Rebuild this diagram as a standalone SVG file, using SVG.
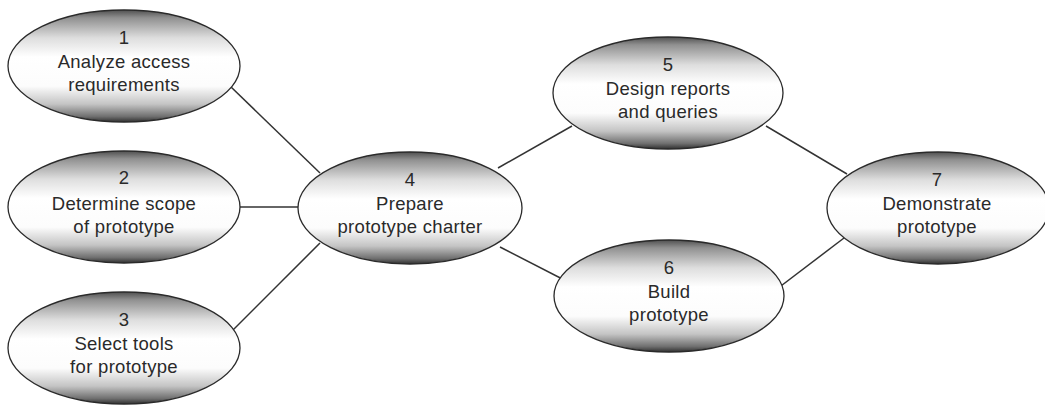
<svg xmlns="http://www.w3.org/2000/svg" width="1045" height="406" viewBox="0 0 1045 406">
<defs>
<linearGradient id="g" x1="0" y1="0" x2="0" y2="1">
<stop offset="0" stop-color="#505050"/>
<stop offset="0.07" stop-color="#909090"/>
<stop offset="0.25" stop-color="#dedede"/>
<stop offset="0.42" stop-color="#ffffff"/>
<stop offset="0.68" stop-color="#fcfcfc"/>
<stop offset="0.84" stop-color="#c4c4c4"/>
<stop offset="0.95" stop-color="#707070"/>
<stop offset="1" stop-color="#303030"/>
</linearGradient>
</defs>
<style>
.n ellipse{fill:url(#g);stroke:#2a2a2a;stroke-width:1.3}
.n text{font-family:"Liberation Sans",Arial,sans-serif;font-size:18.5px;letter-spacing:0.3px;fill:#2a2a2a;text-anchor:middle}
.c line{stroke:#333;stroke-width:1.5}
</style>
<rect width="1045" height="406" fill="#fff"/>
<g class="c">
<line x1="230" y1="86" x2="320" y2="173"/>
<line x1="240" y1="207" x2="298" y2="207"/>
<line x1="233" y1="330" x2="320" y2="243"/>
<line x1="498" y1="168" x2="572" y2="126"/>
<line x1="500" y1="247" x2="574" y2="285"/>
<line x1="766" y1="126" x2="847" y2="174"/>
<line x1="773" y1="292" x2="844" y2="238"/>
</g>
<g class="n" id="n1"><ellipse cx="124" cy="66" rx="116" ry="56"/>
<text x="124" y="44">1</text><text x="124" y="68">Analyze access</text><text x="124" y="91">requirements</text></g>
<g class="n" id="n2"><ellipse cx="124" cy="207" rx="116" ry="56"/>
<text x="124" y="184">2</text><text x="124" y="210">Determine scope</text><text x="124" y="233">of prototype</text></g>
<g class="n" id="n3"><ellipse cx="124" cy="348" rx="116" ry="56"/>
<text x="124" y="326">3</text><text x="124" y="350">Select tools</text><text x="124" y="373">for prototype</text></g>
<g class="n" id="n4"><ellipse cx="410" cy="208" rx="112" ry="56"/>
<text x="410" y="186">4</text><text x="410" y="210">Prepare</text><text x="410" y="233">prototype charter</text></g>
<g class="n" id="n5"><ellipse cx="668" cy="93" rx="115" ry="56"/>
<text x="668" y="71">5</text><text x="668" y="95">Design reports</text><text x="668" y="118">and queries</text></g>
<g class="n" id="n6"><ellipse cx="669" cy="296" rx="115" ry="56"/>
<text x="669" y="274">6</text><text x="669" y="298">Build</text><text x="669" y="321">prototype</text></g>
<g class="n" id="n7"><ellipse cx="938" cy="208" rx="111" ry="56"/>
<text x="937" y="186">7</text><text x="937" y="210">Demonstrate</text><text x="937" y="233">prototype</text></g>
</svg>
